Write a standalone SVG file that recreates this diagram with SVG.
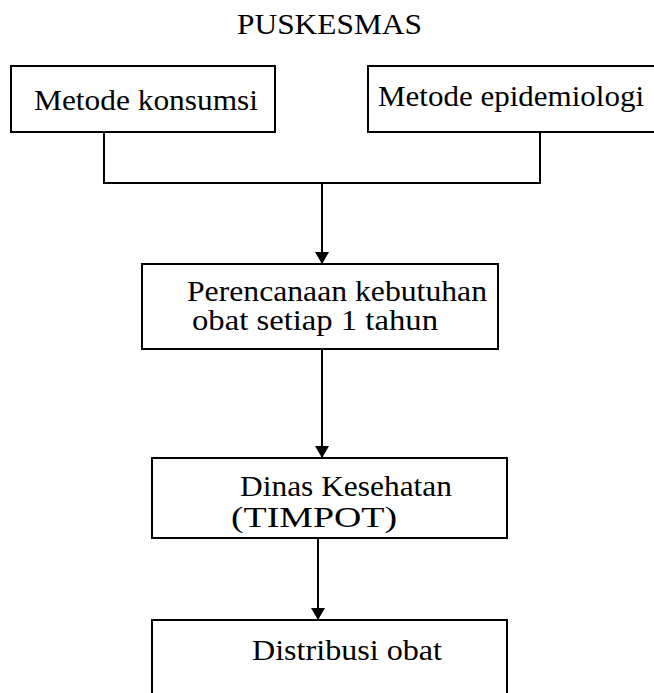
<svg xmlns="http://www.w3.org/2000/svg" width="654" height="693" viewBox="0 0 654 693">
<defs>
<style>
.box{fill:#fff;stroke:#000;stroke-width:2}
.t{font-family:"Liberation Serif","Times New Roman",serif;font-size:29px;fill:#000}
.c{fill:none;stroke:#000;stroke-width:2}
</style>
<marker id="ah" viewBox="0 0 12 14" refX="12" refY="7" markerWidth="12" markerHeight="14" markerUnits="userSpaceOnUse" orient="auto">
<path d="M0,0 L12,7 L0,14 z" fill="#000"/>
</marker>
</defs>
<rect width="654" height="693" fill="#fff"/>
<g id="title"><text class="t" x="237" y="34" textLength="185" lengthAdjust="spacingAndGlyphs">PUSKESMAS</text></g>
<g id="n1"><rect class="box" x="11" y="66" width="264" height="66"/><text class="t" x="34" y="110" textLength="224" lengthAdjust="spacingAndGlyphs">Metode konsumsi</text></g>
<g id="n2"><rect class="box" x="368" y="66" width="300" height="66"/><text class="t" x="378" y="106" textLength="266" lengthAdjust="spacingAndGlyphs">Metode epidemiologi</text></g>
<g id="n3"><rect class="box" x="142" y="264" width="356" height="85"/><text class="t" x="187" y="301" textLength="300" lengthAdjust="spacingAndGlyphs">Perencanaan kebutuhan</text><text class="t" x="192" y="330" textLength="246" lengthAdjust="spacingAndGlyphs">obat setiap 1 tahun</text></g>
<g id="n4"><rect class="box" x="152" y="458" width="355" height="80"/><text class="t" x="240" y="496" textLength="212" lengthAdjust="spacingAndGlyphs">Dinas Kesehatan</text><text class="t" x="231" y="527" textLength="166" lengthAdjust="spacingAndGlyphs">(TIMPOT)</text></g>
<g id="n5"><path class="box" d="M152,700 L152,620 L507,620 L507,700"/><text class="t" x="252" y="660" textLength="190" lengthAdjust="spacingAndGlyphs">Distribusi obat</text></g>
<g id="connectors">
<path class="c" d="M104,132 L104,183 L540,183 L540,132"/>
<path class="c" d="M322,183 L322,264" marker-end="url(#ah)"/>
<path class="c" d="M322,349 L322,458" marker-end="url(#ah)"/>
<path class="c" d="M318,538 L318,620" marker-end="url(#ah)"/>
</g>
</svg>
